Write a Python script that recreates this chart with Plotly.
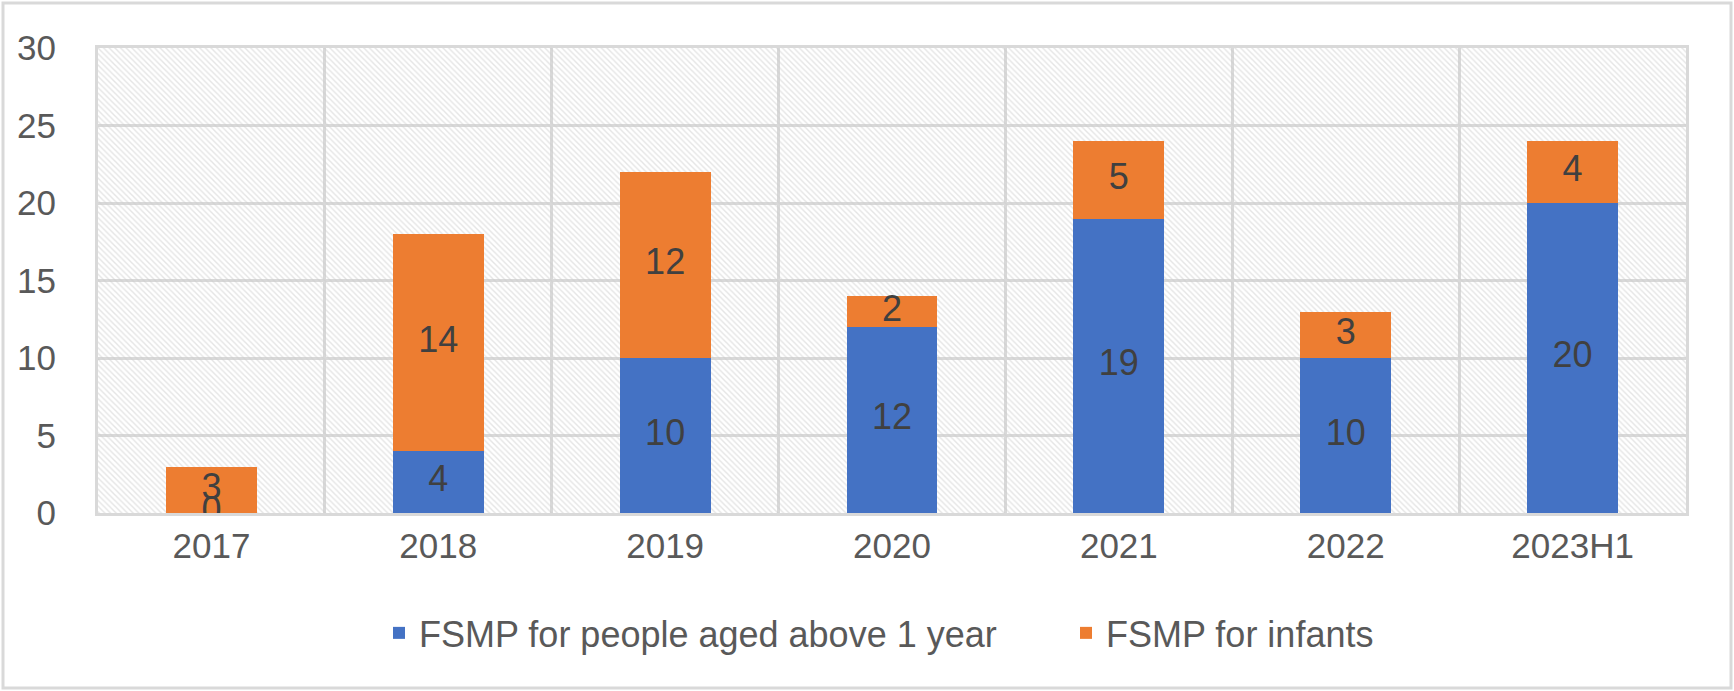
import plotly.graph_objects as go

categories = ["2017", "2018", "2019", "2020", "2021", "2022", "2023H1"]
above_1_year = [0, 4, 10, 12, 19, 10, 20]
infants = [3, 14, 12, 2, 5, 3, 4]
series_names = ["FSMP for people aged above 1 year", "FSMP for infants"]
y_ticks = [0, 5, 10, 15, 20, 25, 30]
Y_MAX = 30

BLUE = "#4472C4"
ORANGE = "#ED7D31"
GRID = "#d9d9d9"
FONT = "Liberation Sans, Arial, sans-serif"

fig = go.Figure()

# hatched plot-area background (base subplot)
fig.add_trace(go.Bar(
    x=categories, y=[Y_MAX] * len(categories), width=1,
    xaxis="x", yaxis="y",
    marker=dict(color="rgba(0,0,0,0)", line=dict(width=0),
                pattern=dict(shape="\\", fgcolor="#cccccc", bgcolor="rgba(0,0,0,0)",
                             size=4, solidity=0.35)),
    showlegend=False, hoverinfo="skip",
))

# data bars on overlaid subplot
fig.add_trace(go.Bar(
    x=categories, y=above_1_year, name=series_names[0], width=0.4,
    marker=dict(color=BLUE, line=dict(width=0)),
    xaxis="x2", yaxis="y2",
))
fig.add_trace(go.Bar(
    x=categories, y=infants, name=series_names[1], width=0.4,
    marker=dict(color=ORANGE, line=dict(width=0)),
    xaxis="x2", yaxis="y2",
))

# data labels centred in each segment
blue_mid = [v / 2 for v in above_1_year]
orange_mid = [a + b / 2 for a, b in zip(above_1_year, infants)]
fig.add_trace(go.Scatter(
    x=categories, y=blue_mid, text=[str(v) for v in above_1_year], mode="text",
    textfont=dict(size=36, color="#404040", family=FONT),
    xaxis="x2", yaxis="y2", showlegend=False, hoverinfo="skip",
))
fig.add_trace(go.Scatter(
    x=categories, y=orange_mid, text=[str(v) for v in infants], mode="text",
    textfont=dict(size=36, color="#404040", family=FONT),
    xaxis="x2", yaxis="y2", showlegend=False, hoverinfo="skip",
))

axis_common = dict(showline=True, linecolor=GRID, linewidth=3, mirror=True,
                   showgrid=True, gridcolor=GRID, gridwidth=3, zeroline=False)

fig.update_layout(
    width=1734, height=691,
    margin=dict(l=98, r=48, t=48, b=178, autoexpand=False),
    paper_bgcolor="white", plot_bgcolor="white",
    barmode="stack",
    font=dict(family=FONT, color="#595959", size=35),
    xaxis=dict(type="category", categoryorder="array", categoryarray=categories,
               range=[-0.5, len(categories) - 0.5], tickson="boundaries",
               ticks="outside", ticklen=21, tickcolor="rgba(0,0,0,0)",
               tickfont=dict(size=35, color="#595959"), **axis_common),
    yaxis=dict(range=[0, Y_MAX], tickvals=y_ticks, ticks="outside", ticklen=32,
               tickcolor="rgba(0,0,0,0)", tickfont=dict(size=35, color="#595959"),
               **axis_common),
    xaxis2=dict(type="category", categoryorder="array", categoryarray=categories,
                range=[-0.5, len(categories) - 0.5], overlaying="x", visible=False),
    yaxis2=dict(range=[0, Y_MAX], overlaying="y", visible=False),
    legend=dict(orientation="h", traceorder="normal",
                x=(379 - 98) / 1588, xanchor="left", y=-0.258, yanchor="middle",
                font=dict(size=36, color="#595959"), itemwidth=30,
                entrywidth=642, entrywidthmode="pixels",
                bgcolor="rgba(0,0,0,0)"),
    showlegend=True,
    shapes=[dict(type="rect", xref="paper", yref="paper",
                 x0=(3 - 98) / 1588, x1=(1731 - 98) / 1588,
                 y0=(513 - 688) / 465, y1=(513 - 3) / 465,
                 line=dict(color=GRID, width=3), fillcolor="rgba(0,0,0,0)", layer="below")],
)

fig.write_html("out.html")
